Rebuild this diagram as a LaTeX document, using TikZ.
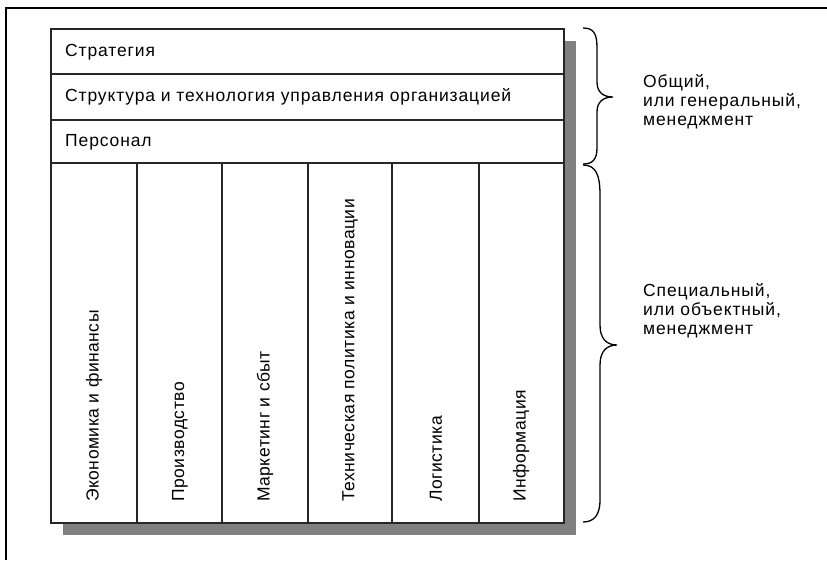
\documentclass[tikz,border=0pt]{standalone}
\usepackage{fontspec}
\setmainfont{Liberation Sans}[LetterSpace=5]
\newfontfamily\colfont{Liberation Sans}[LetterSpace=3]
\begin{document}
\begin{tikzpicture}[x=1pt,y=-1pt,
  frame/.style={line width=2pt,black},
  boxline/.style={line width=1.2pt,draw=black!85},
  rowtext/.style={anchor=west,inner sep=0pt,font=\fontsize{17.5}{21}\selectfont},
  coltext/.style={rotate=90,anchor=west,inner sep=0pt,font=\colfont\fontsize{17.5}{21}\selectfont},
  sidetext/.style={anchor=north west,inner sep=0pt,align=left,font=\fontsize{17.5}{19}\selectfont},
  bracel/.style={line width=1.3pt,black}]
\useasboundingbox (0,0) rectangle (827,560);
% outer frame (top and left only)
\draw[frame] (6,560) -- (6,8) -- (827,8);
% shadow
\fill[black!50] (63,41) rectangle (576,535);
% main box
\filldraw[fill=white,boxline] (51,29) rectangle (564,523);
\draw[boxline] (51,74) -- (564,74);
\draw[boxline] (51,120) -- (564,120);
\draw[boxline] (51,163) -- (564,163);
\foreach \x in {137,222,308,392,479} \draw[boxline] (\x,163) -- (\x,523);
% row texts
\node[rowtext] (r1) at (65,52) {Стратегия};
\node[rowtext] (r2) at (65,97) {Структура и технология управления организацией};
\node[rowtext] (r3) at (65,142) {Персонал};
% column texts
\node[coltext] (c1) at (94,502) {Экономика и финансы};
\node[coltext] (c2) at (180,502) {Производство};
\node[coltext] (c3) at (265,502) {Маркетинг и сбыт};
\node[coltext] (c4) at (350,502) {Техническая политика и инновации};
\node[coltext] (c5) at (436,502) {Логистика};
\node[coltext] (c6) at (521,502) {Информация};
% braces
\draw[bracel] (583,28) .. controls (594,28) and (597,34) .. (597,48) -- (597,82)
  .. controls (597,92) and (603,97) .. (613,97)
  .. controls (603,97) and (597,102) .. (597,112) -- (597,148)
  .. controls (597,160) and (592,164) .. (583,164);
\draw[bracel] (583,165) .. controls (596,165) and (600,175) .. (600,195) -- (600,325)
  .. controls (600,338) and (606,345) .. (617,345)
  .. controls (606,345) and (600,352) .. (600,365) -- (600,500)
  .. controls (600,515) and (594,522) .. (583,522);
% side labels
\node[sidetext] (g) at (643,74) {Общий,\\или генеральный,\\менеджмент};
\node[sidetext] (s) at (643,283) {Специальный,\\или объектный,\\менеджмент};
\end{tikzpicture}
\end{document}
